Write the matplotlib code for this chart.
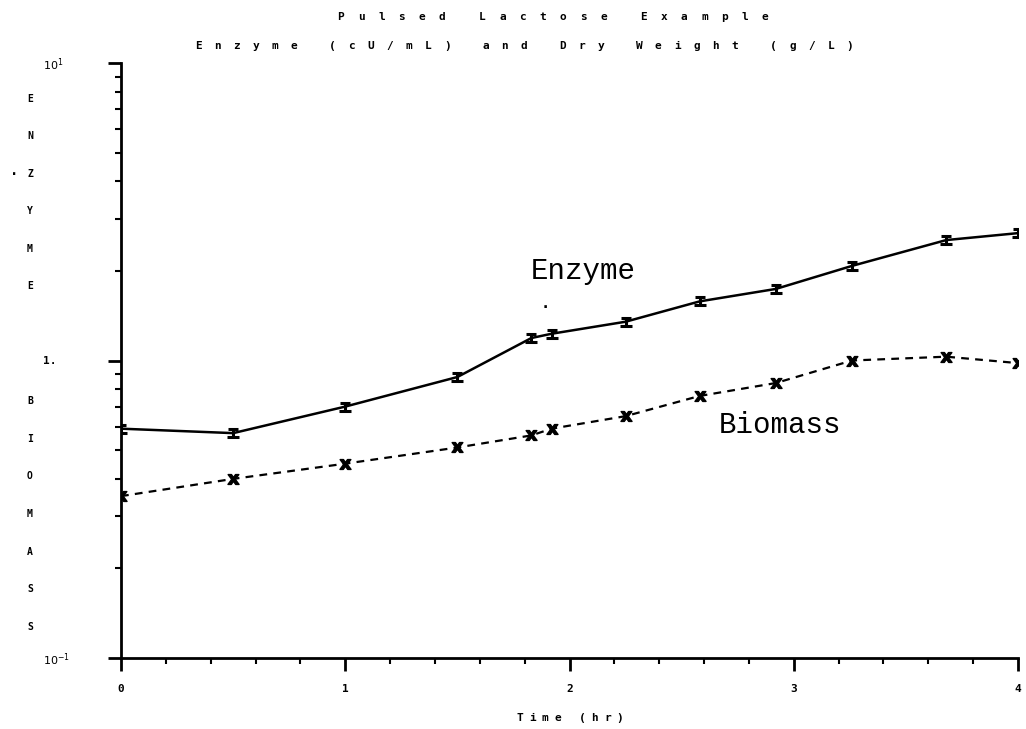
import matplotlib
matplotlib.use("Agg")
import matplotlib.pyplot as plt
from matplotlib.path import Path
from matplotlib.ticker import FixedLocator, FixedFormatter, MultipleLocator, NullFormatter

# sample times (hr)
time_hr = [0.0, 0.5, 1.0, 1.5, 1.83, 1.92, 2.25, 2.58, 2.92, 3.26, 3.68, 4.0]
# enzyme (cU/mL)
enzyme = [0.59, 0.57, 0.70, 0.88, 1.19, 1.23, 1.35, 1.58, 1.74, 2.08, 2.54, 2.68]
# dry weight (g/L)
biomass = [0.35, 0.40, 0.45, 0.51, 0.56, 0.59, 0.65, 0.76, 0.84, 1.0, 1.03, 0.98]

y_major = [0.1, 1, 10]
y_major_labels = ["$10^{-1}$", "1.", "$10^{1}$"]
x_major = [0, 1, 2, 3, 4]

W, H = 1026, 729
mono = "DejaVu Sans Mono"

fig = plt.figure(figsize=(W / 100, H / 100), dpi=100)
ax = fig.add_axes([121 / W, 1 - 658 / H, (1018 - 121) / W, (658 - 63) / H])


def pitch_text(s, x0, x1, y, size=8):
    # old plotter style: every character on a fixed pitch
    step = (x1 - x0) / (len(s) - 1)
    for i, ch in enumerate(s):
        if ch != " ":
            fig.text((x0 + i * step) / W, 1 - y / H, ch, ha="center", va="center",
                     fontsize=size, fontweight="bold", family=mono)


# "I" shaped marker for the enzyme points
i_mark = Path([(-1, 0.8), (1, 0.8), (0, 0.8), (0, -0.8), (-1.2, -0.8), (1.2, -0.8)],
              [Path.MOVETO, Path.LINETO, Path.MOVETO, Path.LINETO, Path.MOVETO, Path.LINETO])

ax.plot(time_hr, enzyme, color="black", lw=1.8)
ax.plot(time_hr, enzyme, ls="none", marker=i_mark, ms=8, mew=2.2, color="black")
ax.plot(time_hr, biomass, color="black", lw=1.6, ls=(0, (3.5, 2.8)))
ax.plot(time_hr, biomass, ls="none", marker=r"$\mathbf{x}$", ms=8, color="black")

ax.set_yscale("log")
ax.set_ylim(0.1, 10)
ax.set_xlim(0, 4)

ax.yaxis.set_major_locator(FixedLocator(y_major))
ax.yaxis.set_major_formatter(FixedFormatter(y_major_labels))
ax.yaxis.set_minor_formatter(NullFormatter())
ax.xaxis.set_major_locator(FixedLocator(x_major))
ax.xaxis.set_minor_locator(MultipleLocator(0.2))

for sp in ["top", "right"]:
    ax.spines[sp].set_visible(False)
for sp in ["left", "bottom"]:
    ax.spines[sp].set_linewidth(2)

ax.tick_params(axis="both", which="major", direction="out", length=9.5, width=2,
               labelsize=8)
ax.tick_params(axis="both", which="minor", direction="out", length=4, width=1.5)
ax.tick_params(axis="y", which="major", pad=47)
ax.tick_params(axis="x", which="major", pad=9)
for lbl in ax.get_xticklabels() + ax.get_yticklabels():
    lbl.set_fontfamily(mono)
    lbl.set_fontweight("bold")
for lbl in ax.get_yticklabels():
    lbl.set_horizontalalignment("left")

pitch_text("Pulsed Lactose Example", 341, 765, 17)
pitch_text("Enzyme (cU/mL) and Dry Weight (g/L)", 198, 850, 46)
pitch_text("Time (hr)", 520, 620, 718)

# stacked vertical axis label
for i, ch in enumerate("ENZYME"):
    fig.text(30 / W, 1 - (99 + i * 37.4) / H, ch, ha="center", va="center",
             fontsize=7, fontweight="bold", family=mono)
for i, ch in enumerate("BIOMASS"):
    fig.text(30 / W, 1 - (401 + i * 37.7) / H, ch, ha="center", va="center",
             fontsize=7, fontweight="bold", family=mono)
fig.text(14 / W, 1 - 178 / H, ".", ha="center", va="bottom", fontsize=10,
         fontweight="bold", family=mono)

ax.text(2.06, 2.0, "Enzyme", fontsize=21, family="Liberation Mono", ha="center", va="center")
ax.text(2.94, 0.605, "Biomass", fontsize=21, family="Liberation Mono", ha="center", va="center")
ax.text(1.89, 1.47, ".", fontsize=10, fontweight="bold", ha="center", va="bottom")

fig.savefig("out.png", dpi=100)
